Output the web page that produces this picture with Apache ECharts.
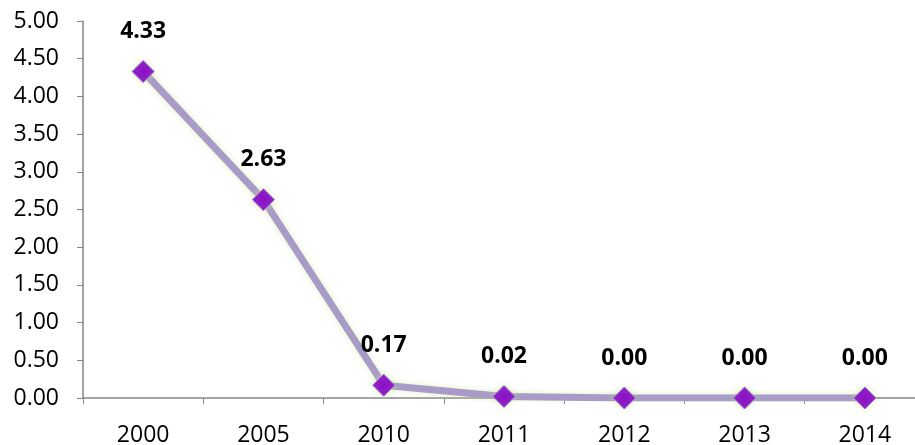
<!DOCTYPE html>
<html><head><meta charset="utf-8">
<script src="https://cdn.jsdelivr.net/npm/echarts@6/dist/echarts.min.js"></script>
<style>html,body{margin:0;padding:0;background:#fff}#c{width:915px;height:445px}</style>
</head><body><div id="c"></div>
<script>
const categories = ['2000','2005','2010','2011','2012','2013','2014'];
const values = [4.33, 2.63, 0.17, 0.02, 0.00, 0.00, 0.00];
const yTicks = {min: 0, max: 5, interval: 0.5};

const chart = echarts.init(document.getElementById('c'));
chart.setOption({
  animation: false,
  backgroundColor: '#fff',
  grid: {left: 83, width: 842, top: 21, bottom: 47, containLabel: false, outerBoundsMode: 'none'},
  xAxis: {
    type: 'category', data: categories, boundaryGap: true,
    axisLine: {lineStyle: {color: '#868686', width: 1.5}},
    axisTick: {show: true, length: 6, lineStyle: {color: '#868686'}},
    axisLabel: {color: '#000', fontSize: 23, fontFamily: 'Open Sans', margin: 26}
  },
  yAxis: {
    type: 'value', min: yTicks.min, max: yTicks.max, interval: yTicks.interval,
    splitLine: {show: false},
    axisLine: {show: true, lineStyle: {color: '#868686', width: 1.5}},
    axisTick: {show: true, length: 6, lineStyle: {color: '#868686'}},
    axisLabel: {color: '#000', fontSize: 23, fontFamily: 'Open Sans', margin: 24,
      formatter: v => v.toFixed(2)}
  },
  series: [{
    type: 'line', data: values,
    symbol: 'diamond', symbolSize: 22,
    lineStyle: {color: '#A99BC8', width: 7, shadowColor: 'rgba(200,230,150,0.6)', shadowBlur: 6},
    itemStyle: {color: '#8A10C8', borderColor: '#A070D8', borderWidth: 1, shadowColor: 'rgba(200,230,150,0.7)', shadowBlur: 6},
    label: {show: true, position: 'top', distance: 17, color: '#000', fontWeight: 'bold',
      fontSize: 23, fontFamily: 'Open Sans', formatter: p => p.value.toFixed(2)},
    z: 3
  }]
});
</script></body></html>
